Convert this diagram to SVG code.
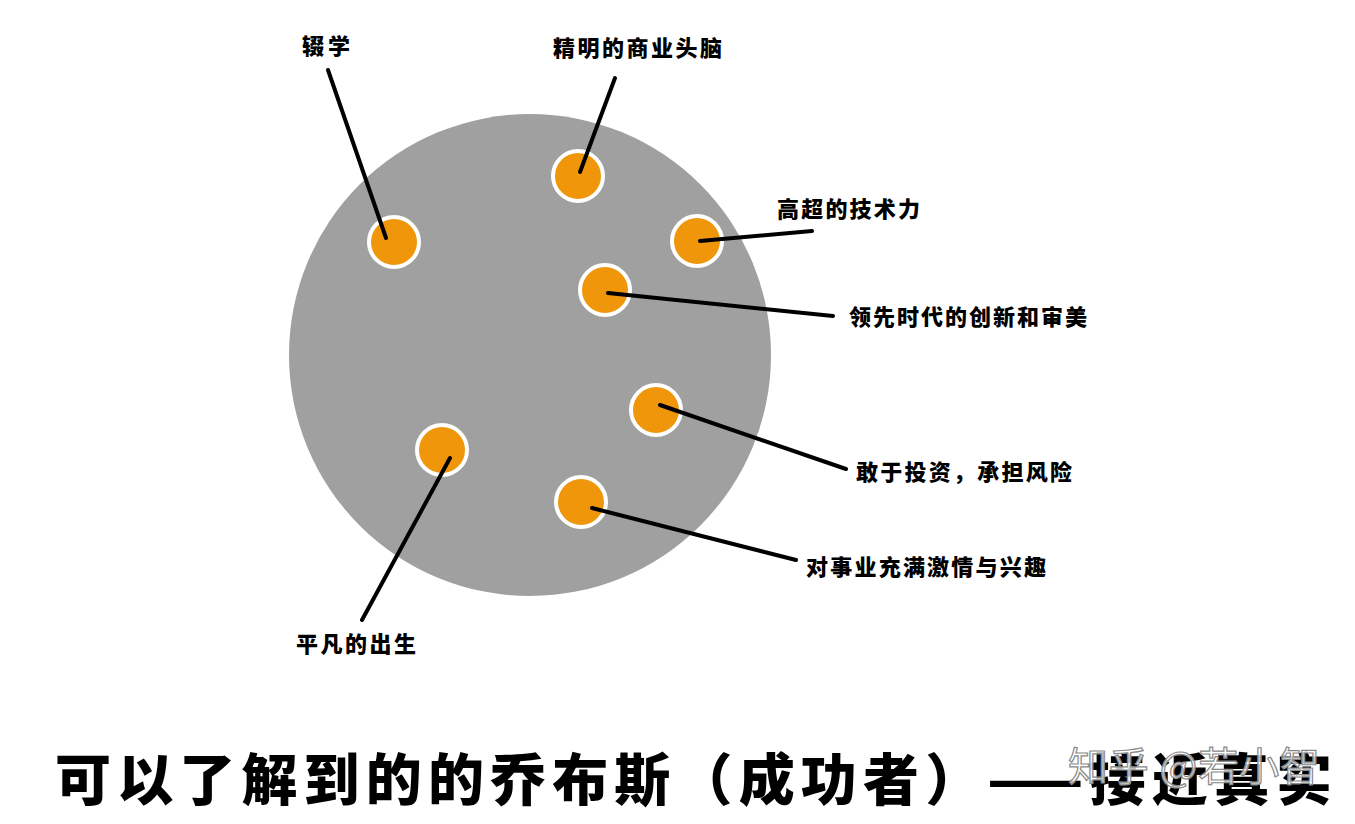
<svg xmlns="http://www.w3.org/2000/svg" width="1355" height="824" viewBox="0 0 1355 824">
<style>
.dot{fill:#f0960a;stroke:#fff;stroke-width:4}
.ln{stroke:#000;stroke-width:4;stroke-linecap:round;fill:none}
.lb{font-family:"Noto Sans CJK SC","Noto Sans",sans-serif;font-weight:900;font-size:22px;fill:#000;dominant-baseline:central}
.title{font-family:"Noto Sans CJK SC","Noto Sans",sans-serif;font-weight:900;font-size:56px;fill:#000;dominant-baseline:central}
.wm{font-family:"Noto Sans CJK SC","Noto Sans",sans-serif;font-weight:400;font-size:40px;fill:#fff;fill-opacity:0.75;stroke:#888;stroke-width:1.2;dominant-baseline:central}
</style>
<rect width="1355" height="824" fill="#fff"/>
<circle id="main" cx="530" cy="355" r="241" fill="#a0a0a0"/>
<g id="n1"><circle class="dot" cx="394" cy="242" r="25"/><text class="lb" x="302" y="44" font-weight="700" textLength="48">辍学</text></g>
<g id="n2"><circle class="dot" cx="578" cy="176" r="25"/><text class="lb" x="553" y="46" textLength="169">精明的商业头脑</text></g>
<g id="n3"><circle class="dot" cx="697" cy="241" r="25"/><text class="lb" x="777" y="207" textLength="143">高超的技术力</text></g>
<g id="n4"><circle class="dot" cx="605" cy="290" r="25"/><text class="lb" x="849" y="315" textLength="238">领先时代的创新和审美</text></g>
<g id="n5"><circle class="dot" cx="656" cy="410" r="25"/><text class="lb" x="856" y="470" textLength="216">敢于投资，承担风险</text></g>
<g id="n6"><circle class="dot" cx="442" cy="450" r="25"/><text class="lb" x="296" y="642" textLength="120">平凡的出生</text></g>
<g id="n7"><circle class="dot" cx="581" cy="502" r="25"/><text class="lb" x="806" y="565" textLength="240">对事业充满激情与兴趣</text></g>
<g id="connectors">
<line class="ln" x1="386" y1="238" x2="328" y2="70"/>
<line class="ln" x1="580" y1="172" x2="615" y2="78"/>
<line class="ln" x1="700" y1="241" x2="812" y2="231"/>
<line class="ln" x1="608" y1="293" x2="833" y2="316"/>
<line class="ln" x1="660" y1="405" x2="846" y2="469"/>
<line class="ln" x1="450" y1="458" x2="362" y2="620"/>
<line class="ln" x1="592" y1="508" x2="796" y2="560"/>
</g>
<g id="title"><text class="title" x="55" y="775" textLength="1277" lengthAdjust="spacing">可以了解到的的乔布斯（成功者）——接近真实</text></g>
<g id="watermark"><text class="wm" x="1068" y="764" textLength="252" lengthAdjust="spacing">知乎 @若小智</text></g>
</svg>
